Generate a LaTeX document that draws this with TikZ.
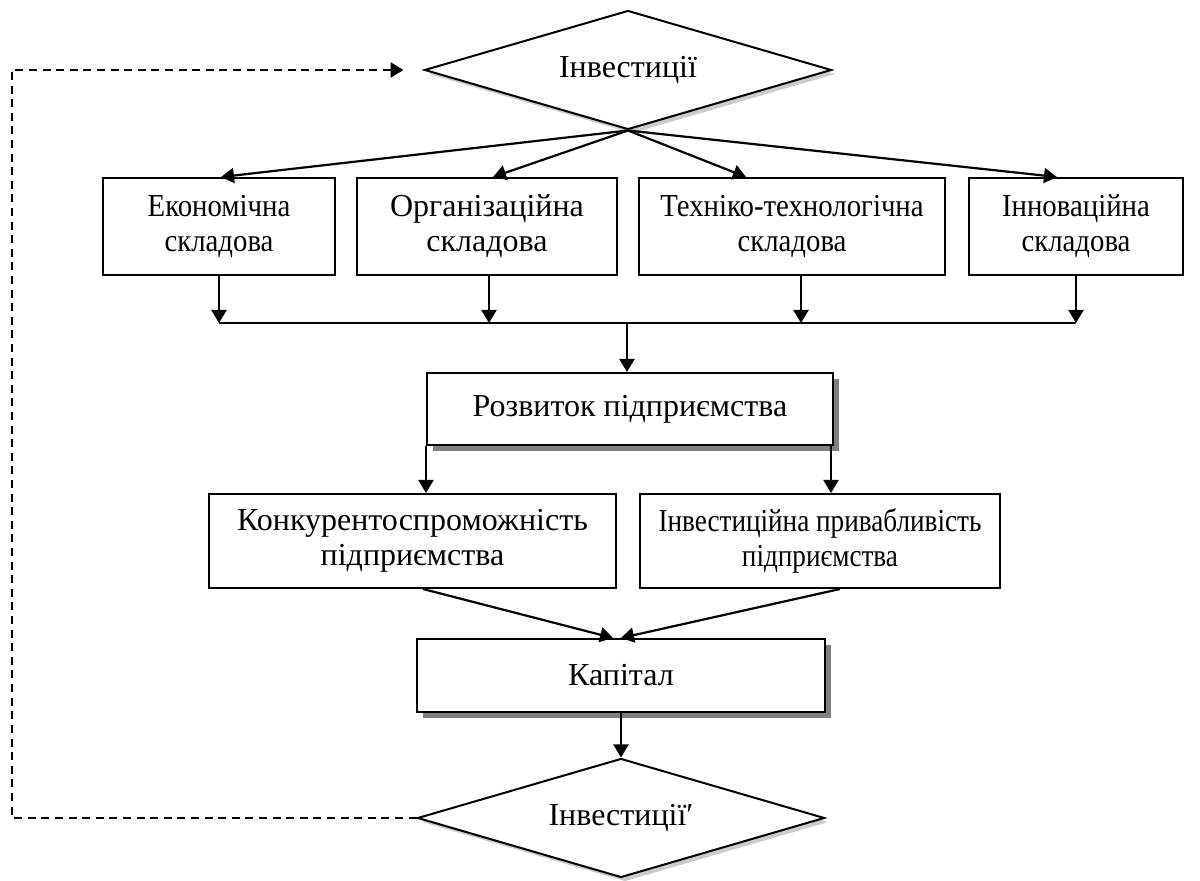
\documentclass[tikz,border=0pt]{standalone}
\usepackage{fontspec}
\setmainfont{Liberation Serif}
\newfontfamily\condfont{Liberation Serif}[FakeStretch=0.9]
\newfontfamily\narrowfont{Liberation Serif}[FakeStretch=0.85]
\usetikzlibrary{shapes.geometric,arrows.meta,shadows,calc}

\tikzset{
  box/.style={draw,line width=1pt,fill=white,align=center,inner sep=0pt,
              font=\fontsize{16}{17.5}\selectfont},
  condbox/.style={box,font=\condfont\fontsize{16}{17.5}\selectfont},
  narrowbox/.style={box,font=\narrowfont\fontsize{16}{17.5}\selectfont},
  boxshadow/.style={box,general shadow={fill=gray,shadow xshift=3pt,shadow yshift=-3pt}},
  rhomb/.style={diamond,draw,line width=1pt,fill=white,aspect=3.4,inner sep=0pt,
                minimum width=203.5pt,minimum height=59.5pt,
                font=\fontsize{16}{17.5}\selectfont,
                general shadow={fill=gray!40,shadow xshift=2pt,shadow yshift=-2pt}},
  link/.style={line width=1.1pt,-{Triangle[length=6.5pt,width=7.5pt]}},
  feedback/.style={link,line width=1.2pt,dash pattern=on 4pt off 2.8pt}
}

\begin{document}
\begin{tikzpicture}[x=0.5pt,y=-0.5pt]
\useasboundingbox (0,0) rectangle (1200,881);
%% Investment (input)
\node[rhomb] (inv) at (628,70) {Інвестиції};
%% Components
\node[condbox,minimum width=116pt,minimum height=48.5pt] (econ)  at (219,226.5)  {Економічна\\складова};
\node[box,minimum width=130pt,minimum height=48.5pt]     (org)   at (487,226.5)  {Організаційна\\складова};
\node[condbox,minimum width=153pt,minimum height=48.5pt] (tech)  at (792,226.5)  {Техніко-технологічна\\складова};
\node[condbox,minimum width=107pt,minimum height=48.5pt] (innov) at (1076,226.5) {Інноваційна\\складова};
%% Development
\node[boxshadow,minimum width=203pt,minimum height=36pt] (rozv) at (630,409) {Розвиток підприємства};
%% Results
\node[box,minimum width=203.5pt,minimum height=47pt]     (comp) at (412.5,541) {Конкурентоспроможність\\підприємства};
\node[narrowbox,minimum width=180pt,minimum height=47pt] (attr) at (820,541)   {Інвестиційна привабливість\\підприємства};
%% Capital
\node[boxshadow,minimum width=204pt,minimum height=36.5pt] (cap) at (621,675.5) {Капітал};
%% Investment (output)
\node[rhomb] (inv2) at (621,818) {Інвестиції′};

%% Investment -> components
\foreach \b/\s in {econ/1pt,org/3pt,tech/-23pt,innov/-9.5pt}
  \draw[link] (inv.south) -- ([xshift=\s]\b.north);
%% Components -> common line
\coordinate (bus) at (627,323);
\draw[line width=1.1pt] (econ.south |- bus) -- (innov.south |- bus);
\foreach \b/\s in {econ/0pt,org/1pt,tech/4.5pt,innov/0pt}{
  \coordinate (d\b) at ([xshift=\s]\b.south);
  \draw[link] (d\b) -- (d\b |- bus);
}
\draw[link] (bus) -- (bus |- rozv.north);
%% Development -> results
\coordinate (rL) at (rozv.south west);
\coordinate (rR) at ([xshift=-1.5pt]rozv.south east);
\draw[link] (rL) -- (rL |- comp.north);
\draw[link] (rR) -- (rR |- attr.north);
%% Results -> capital
\draw[link] ([xshift=5.25pt]comp.south) -- ([xshift=-4pt]cap.north);
\draw[link] ([xshift=10pt]attr.south) -- (cap.north);
\draw[link] (cap.south) -- (inv2.north);
%% Feedback loop
\coordinate (loop) at (12,0);
\draw[feedback] (inv2.west) -- (inv2.west -| loop) -- (loop |- inv.west)
  -- ([xshift=-10pt]inv.west);
\end{tikzpicture}
\end{document}
